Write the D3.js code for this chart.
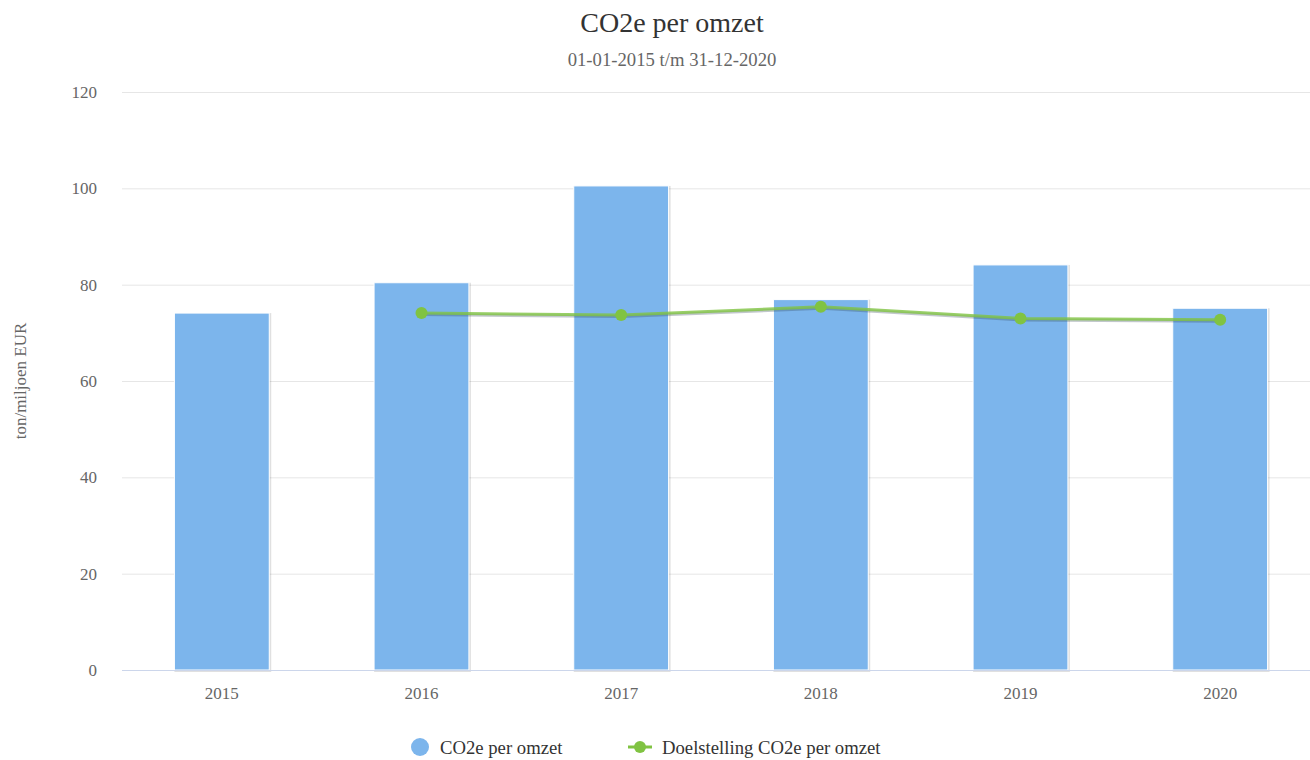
<!DOCTYPE html>
<html>
<head>
<meta charset="utf-8">
<script src="https://cdn.jsdelivr.net/npm/d3@7"></script>
<style>
    body { margin: 0; background: #fff; }
    svg text { font-family: "Liberation Serif", "Times New Roman", "DejaVu Serif", serif !important; }
</style>
</head>
<body>
<div id="visual"></div>
<script>
var years = ["2015", "2016", "2017", "2018", "2019", "2020"];
var co2PerOmzet = [74.1, 80.4, 100.5, 76.9, 84.1, 75.1];
var doelstelling = [null, 74.1, 73.7, 75.4, 73.0, 72.7];
var yTicks = [0, 20, 40, 60, 80, 100, 120];

var w = 1310, h = 760;
var plotLeft = 122, plotRight = 1320; // plot area runs a little past the edge
var margin = {top: 92, bottom: 90};
var barColor = "#7cb5ec";
var lineColor = "#80c342";
var serif = "'Liberation Serif', 'Times New Roman', 'DejaVu Serif', serif";

var svg = d3.select("#visual")
    .append("svg")
    .attr("width", w)
    .attr("height", h);

var x = d3.scaleBand()
    .domain(years)
    .range([plotLeft, plotRight])
    .paddingInner(0.525)
    .paddingOuter(0.2625);

var y = d3.scaleLinear()
    .domain([0, 120])
    .range([h - margin.bottom, margin.top]);

// title
svg.append("text")
    .attr("x", 672).attr("y", 32)
    .attr("text-anchor", "middle")
    .style("font-size", "28px")
    .attr("fill", "#333")
    .text("CO2e per omzet");

svg.append("text")
    .attr("x", 672).attr("y", 66)
    .attr("text-anchor", "middle")
    .style("font-size", "18.7px")
    .attr("fill", "#666")
    .text("01-01-2015 t/m 31-12-2020");

// grid + y axis
var yAxis = svg.append("g")
    .attr("transform", "translate(" + plotLeft + ",0)")
    .call(d3.axisLeft(y).tickValues(yTicks).tickSize(-(w - plotLeft)).tickPadding(25));
yAxis.attr("font-family", serif);
yAxis.select(".domain").remove();
yAxis.selectAll(".tick line").attr("stroke", "#e6e6e6");
yAxis.selectAll(".tick text")
    .style("font-size", "17px")
    .attr("fill", "#666");

svg.append("text")
    .attr("transform", "translate(26," + ((margin.top + h - margin.bottom) / 2) + ") rotate(-90)")
    .attr("text-anchor", "middle")
    .style("font-size", "17px")
    .attr("fill", "#666")
    .text("ton/miljoen EUR");

// bars
var bars = svg.append("g").selectAll(".bar")
    .data(co2PerOmzet)
    .enter()
    .append("g")
    .attr("class", "bar");

bars.append("rect")
    .attr("x", function(d, i) { return x(years[i]) + 1; })
    .attr("y", function(d) { return y(d) + 1; })
    .attr("width", x.bandwidth())
    .attr("height", function(d) { return y(0) - y(d); })
    .attr("fill", "none")
    .attr("stroke", "#000")
    .attr("stroke-opacity", 0.12)
    .attr("stroke-width", 2);

bars.append("rect")
    .attr("x", function(d, i) { return x(years[i]); })
    .attr("y", function(d) { return y(d); })
    .attr("width", x.bandwidth())
    .attr("height", function(d) { return y(0) - y(d); })
    .attr("fill", barColor)
    .attr("stroke", "#fff")
    .attr("stroke-width", 1);

// x axis
var xAxis = svg.append("g")
    .attr("transform", "translate(0," + y(0) + ")")
    .call(d3.axisBottom(x).tickSize(0).tickPadding(17));
xAxis.attr("font-family", serif);
xAxis.select(".domain")
    .attr("stroke", "#ccd6eb")
    .attr("d", "M" + plotLeft + ",0.5H" + w);
xAxis.selectAll(".tick text")
    .style("font-size", "17px")
    .attr("fill", "#666");

// target line
var pts = doelstelling
    .map(function(d, i) { return {year: years[i], v: d}; })
    .filter(function(d) { return d.v !== null; });

var line = d3.line()
    .x(function(d) { return x(d.year) + x.bandwidth() / 2; })
    .y(function(d) { return y(d.v); });

svg.append("path")
    .datum(pts)
    .attr("d", line)
    .attr("transform", "translate(1,1.5)")
    .attr("fill", "none")
    .attr("stroke", "#345")
    .attr("stroke-opacity", 0.3)
    .attr("stroke-width", 3);

svg.append("path")
    .datum(pts)
    .attr("d", line)
    .attr("fill", "none")
    .attr("stroke", lineColor)
    .attr("stroke-opacity", 0.8)
    .attr("stroke-width", 3);

svg.append("g").selectAll("circle")
    .data(pts)
    .enter()
    .append("circle")
    .attr("cx", function(d) { return x(d.year) + x.bandwidth() / 2; })
    .attr("cy", function(d) { return y(d.v); })
    .attr("r", 6)
    .attr("fill", lineColor);

// legend
var legend = svg.append("g").attr("transform", "translate(0,747)");
legend.append("circle")
    .attr("cx", 420).attr("cy", 0).attr("r", 9)
    .attr("fill", barColor);
legend.append("text")
    .attr("x", 440).attr("y", 6.5)
    .style("font-size", "18.7px")
    .attr("fill", "#333")
    .text("CO2e per omzet");
legend.append("line")
    .attr("x1", 628).attr("x2", 652)
    .attr("y1", 0).attr("y2", 0)
    .attr("stroke", lineColor)
    .attr("stroke-width", 3);
legend.append("circle")
    .attr("cx", 640).attr("cy", 0).attr("r", 6)
    .attr("fill", lineColor);
legend.append("text")
    .attr("x", 662).attr("y", 6.5)
    .style("font-size", "18.7px")
    .attr("fill", "#333")
    .text("Doelstelling CO2e per omzet");
</script>
</body>
</html>
